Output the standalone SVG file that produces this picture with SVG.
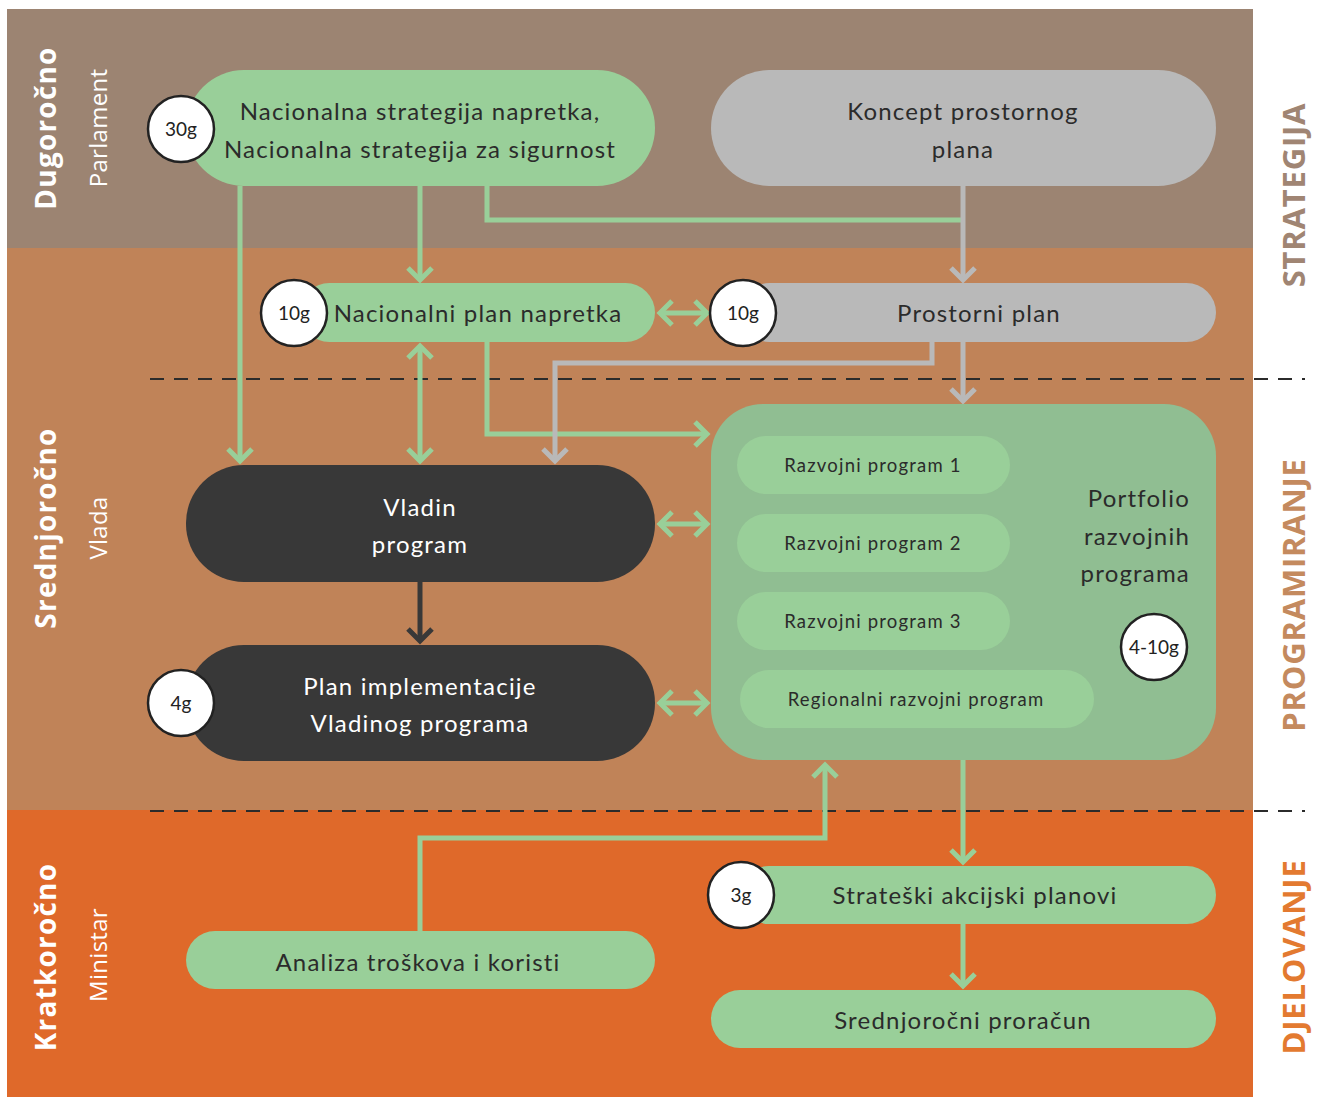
<svg xmlns="http://www.w3.org/2000/svg" width="1317" height="1097" viewBox="0 0 1317 1097">
<style>
.t{font-family:Lato,"Liberation Sans",sans-serif;font-size:24px;letter-spacing:1.2px;fill:#2b2b2b;text-anchor:middle}
.tw{fill:#ffffff}
.ts{font-size:18.5px;letter-spacing:1.2px}
.c{font-family:Lato,"Liberation Sans",sans-serif;font-size:19px;fill:#222;text-anchor:middle}
.circ{fill:#fff;stroke:#222;stroke-width:2.5}
.g{fill:#99cf99}
.gr{fill:#b9b9b9}
.dk{fill:#383838}
.side{font-family:"Open Sans","Liberation Sans",sans-serif;font-weight:700;font-size:28px;letter-spacing:1.2px;fill:#fff;text-anchor:middle}
.sub{font-family:"Open Sans","Liberation Sans",sans-serif;font-weight:400;font-size:24px;letter-spacing:0.3px;fill:#fff;text-anchor:middle}
.rl{font-family:"Open Sans","Liberation Sans",sans-serif;font-weight:700;font-size:31px;letter-spacing:0.8px;text-anchor:middle}
.lg{fill:none;stroke:#99cf99;stroke-width:5}
.lgr{fill:none;stroke:#b9b9b9;stroke-width:5}
.ld{fill:none;stroke:#383838;stroke-width:5}
.dash{stroke:#2b2b2b;stroke-width:2;stroke-dasharray:14 10}
</style>
<defs>
<marker id="ag" markerUnits="userSpaceOnUse" viewBox="-20 -16 24 32" refX="0" refY="0" markerWidth="24" markerHeight="32" orient="auto-start-reverse"><polyline points="-12,-12 0,0 -12,12" fill="none" stroke="#99cf99" stroke-width="5"/></marker>
<marker id="agr" markerUnits="userSpaceOnUse" viewBox="-20 -16 24 32" refX="0" refY="0" markerWidth="24" markerHeight="32" orient="auto-start-reverse"><polyline points="-12,-12 0,0 -12,12" fill="none" stroke="#b9b9b9" stroke-width="5"/></marker>
<marker id="ad" markerUnits="userSpaceOnUse" viewBox="-20 -16 24 32" refX="0" refY="0" markerWidth="24" markerHeight="32" orient="auto-start-reverse"><polyline points="-12,-12 0,0 -12,12" fill="none" stroke="#383838" stroke-width="5"/></marker>
</defs>
<rect x="0" y="0" width="1317" height="1097" fill="#fff"/>
<g id="bands">
<rect x="7" y="9" width="1246" height="239" fill="#9c8472"/>
<rect x="7" y="248" width="1246" height="562" fill="#c08358"/>
<rect x="7" y="810" width="1246" height="287" fill="#df692a"/>
<line class="dash" x1="150" y1="379" x2="1305" y2="379"/>
<line class="dash" x1="150" y1="811" x2="1305" y2="811"/>
</g>
<g id="side-labels">
<text class="side" transform="translate(56,128) rotate(-90)">Dugoročno</text>
<text class="sub" transform="translate(107,128) rotate(-90)">Parlament</text>
<text class="side" transform="translate(56,528) rotate(-90)">Srednjoročno</text>
<text class="sub" transform="translate(107,528) rotate(-90)">Vlada</text>
<text class="side" transform="translate(56,957) rotate(-90)">Kratkoročno</text>
<text class="sub" transform="translate(107,955) rotate(-90)">Ministar</text>
<text class="rl" fill="#a08573" transform="translate(1305,195) rotate(-90)">STRATEGIJA</text>
<text class="rl" fill="#c48a5e" transform="translate(1305,595) rotate(-90)">PROGRAMIRANJE</text>
<text class="rl" fill="#e37a30" transform="translate(1305,957) rotate(-90)">DJELOVANJE</text>
</g>
<g id="connectors">
<line class="lg" x1="240" y1="186" x2="240" y2="461" marker-end="url(#ag)"/>
<line class="lg" x1="420" y1="186" x2="420" y2="280" marker-end="url(#ag)"/>
<polyline class="lg" points="487,186 487,220 963,220"/>
<line class="lgr" x1="963" y1="186" x2="963" y2="280" marker-end="url(#agr)"/>
<line class="lg" x1="660" y1="313" x2="707" y2="313" marker-start="url(#ag)" marker-end="url(#ag)"/>
<line class="lg" x1="420" y1="346" x2="420" y2="461" marker-start="url(#ag)" marker-end="url(#ag)"/>
<polyline class="lg" points="487,342 487,434 707,434" marker-end="url(#ag)"/>
<polyline class="lgr" points="932,342 932,363 555,363 555,461" marker-end="url(#agr)"/>
<line class="lgr" x1="963" y1="342" x2="963" y2="401" marker-end="url(#agr)"/>
<line class="ld" x1="420" y1="582" x2="420" y2="641" marker-end="url(#ad)"/>
<line class="lg" x1="660" y1="524" x2="707" y2="524" marker-start="url(#ag)" marker-end="url(#ag)"/>
<line class="lg" x1="660" y1="703" x2="707" y2="703" marker-start="url(#ag)" marker-end="url(#ag)"/>
<polyline class="lg" points="420,931 420,838 825,838 825,765" marker-end="url(#ag)"/>
<line class="lg" x1="963" y1="760" x2="963" y2="862" marker-end="url(#ag)"/>
<line class="lg" x1="963" y1="924" x2="963" y2="986" marker-end="url(#ag)"/>
</g>
<g id="n-strategija">
<rect class="g" x="186" y="70" width="469" height="116" rx="58"/>
<text class="t" x="420" y="120">Nacionalna strategija napretka,</text>
<text class="t" x="420" y="158">Nacionalna strategija za sigurnost</text>
<circle class="circ" cx="181" cy="129" r="33"/>
<text class="c" x="181" y="136">30g</text>
</g>
<g id="n-koncept">
<rect class="gr" x="711" y="70" width="505" height="116" rx="58"/>
<text class="t" x="963" y="120">Koncept prostornog</text>
<text class="t" x="963" y="158">plana</text>
</g>
<g id="n-npn">
<rect class="g" x="300" y="283" width="355" height="59" rx="29.5"/>
<circle class="circ" cx="294" cy="313" r="33"/>
<text class="c" x="294" y="320">10g</text>
<text class="t" x="478" y="322">Nacionalni plan napretka</text>
</g>
<g id="n-prostorni">
<rect class="gr" x="740" y="283" width="476" height="59" rx="29.5"/>
<circle class="circ" cx="743" cy="313" r="33"/>
<text class="c" x="743" y="320">10g</text>
<text class="t" x="979" y="322">Prostorni plan</text>
</g>
<g id="n-vladin">
<rect class="dk" x="186" y="465" width="469" height="117" rx="58"/>
<text class="t tw" x="420" y="516">Vladin</text>
<text class="t tw" x="420" y="553">program</text>
</g>
<g id="n-plan-impl">
<rect class="dk" x="186" y="645" width="469" height="116" rx="58"/>
<text class="t tw" x="420" y="695">Plan implementacije</text>
<text class="t tw" x="420" y="732">Vladinog programa</text>
<circle class="circ" cx="181" cy="703" r="33"/>
<text class="c" x="181" y="710">4g</text>
</g>
<g id="n-portfolio">
<rect x="711" y="404" width="505" height="356" rx="52" fill="#90be92"/>
<rect class="g" x="737" y="436" width="273" height="58" rx="29"/>
<text class="t ts" x="873" y="472">Razvojni program 1</text>
<rect class="g" x="737" y="514" width="273" height="58" rx="29"/>
<text class="t ts" x="873" y="550">Razvojni program 2</text>
<rect class="g" x="737" y="592" width="273" height="58" rx="29"/>
<text class="t ts" x="873" y="628">Razvojni program 3</text>
<rect class="g" x="740" y="670" width="354" height="58" rx="29"/>
<text class="t ts" x="916" y="706">Regionalni razvojni program</text>
<text class="t" x="1190" y="507" style="text-anchor:end">Portfolio</text>
<text class="t" x="1190" y="545" style="text-anchor:end">razvojnih</text>
<text class="t" x="1190" y="582" style="text-anchor:end">programa</text>
<circle class="circ" cx="1154" cy="647" r="33"/>
<text class="c" x="1154" y="654">4-10g</text>
</g>
<g id="n-analiza">
<rect class="g" x="186" y="931" width="469" height="58" rx="29"/>
<text class="t" x="418" y="971">Analiza troškova i koristi</text>
</g>
<g id="n-strateski">
<rect class="g" x="740" y="866" width="476" height="58" rx="29"/>
<circle class="circ" cx="741" cy="895" r="33"/>
<text class="c" x="741" y="902">3g</text>
<text class="t" x="975" y="904">Strateški akcijski planovi</text>
</g>
<g id="n-proracun">
<rect class="g" x="711" y="990" width="505" height="58" rx="29"/>
<text class="t" x="963" y="1029">Srednjoročni proračun</text>
</g>
</svg>
